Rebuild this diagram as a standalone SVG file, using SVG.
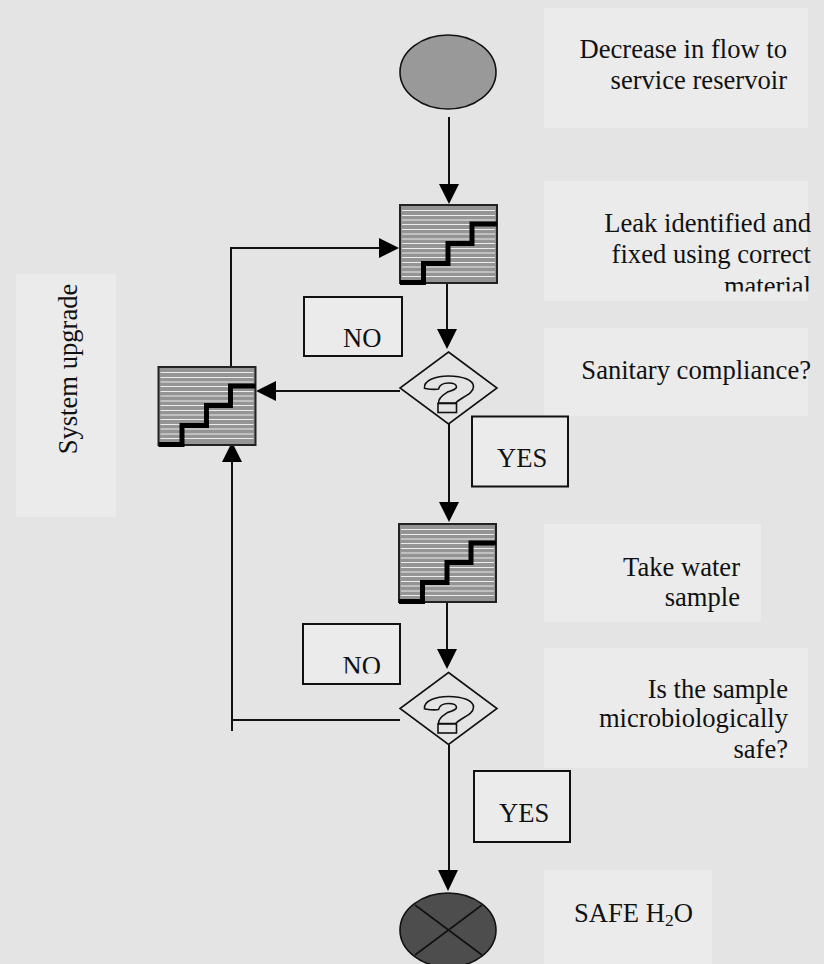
<svg xmlns="http://www.w3.org/2000/svg" width="824" height="964" viewBox="0 0 824 964">
<style>
text{font-family:"Liberation Serif","Times New Roman",serif;font-size:26.6px;fill:#111}
.e{text-anchor:end}
.panel{fill:#ebebeb}
.lab{fill:#ebebeb;stroke:#111;stroke-width:2}
.ln{fill:none;stroke:#111;stroke-width:2}
.hd{fill:#000}
.st{fill:#949494;stroke:#222;stroke-width:2}
.ws{stroke:#ececec;stroke-width:1}
.stp{fill:none;stroke:#000;stroke-width:5}
.dm{fill:#e4e4e4;stroke:#111;stroke-width:1.6}
</style>
<defs>
<g id="proc">
<rect class="st" x="0" y="0" width="97" height="78"/>
<path class="ws" d="M2 5.500H95M2 10.500H95M2 15H95M2 19.500H95M2 24.500H95M2 29H95M2 34H95M2 38.500H95M2 43.500H95M2 48H95M2 52.500H95M2 57.500H95M2 62H95M2 67H95M2 71.500H95"/>
<path class="stp" d="M0 77.500H23.500V58.500H48V38.500H72V19H97"/>
</g>
<g id="dec">
<path class="dm" d="M0 -36L48.500 0L0 36L-48.500 0Z"/>
<path class="dm" d="M-24 0.300C-25 -8 -12 -12 0 -12C14 -12 25 -8 25 -1.300C25 6 13 9 7 15H-10C-10 8 -3 6 -1 4C5 2 8 1 8 -1C8 -4 4 -5 0 -5C-5 -5 -9 -3 -10 1C-15 2 -20 1 -24 0.300Z"/>
<rect class="dm" x="-10.500" y="15.500" width="18.500" height="9"/>
</g>
<clipPath id="c1"><rect x="544" y="181" width="280" height="110.500"/></clipPath>
<clipPath id="c2"><rect x="304" y="624" width="96" height="49.500"/></clipPath>
</defs>
<rect width="824" height="964" fill="#e4e4e4"/>
<g id="connectors">
<path class="ln" d="M449 117V186"/><path class="hd" d="M439 184H459L449 204Z"/>
<path class="ln" d="M447 277V331"/><path class="hd" d="M437 329H457L447 349Z"/>
<path class="ln" d="M400 391H274"/><path class="hd" d="M276 381V401L256 391Z"/>
<path class="ln" d="M449 424V504"/><path class="hd" d="M439 502H459L449 522Z"/>
<path class="ln" d="M447 598V651"/><path class="hd" d="M437 649H457L447 669Z"/>
<path class="ln" d="M400 720H232M232 731V460"/><path class="hd" d="M222 462H242L232 442Z"/>
<path class="ln" d="M231 367V248H381"/><path class="hd" d="M379 238V258L399 248Z"/>
<path class="ln" d="M449 745V872"/><path class="hd" d="M438 870H458L448 891Z"/>
</g>
<g id="panel-1"><rect class="panel" x="544" y="8" width="264" height="120"/><text class="e" x="787" y="58">Decrease in flow to</text><text class="e" x="787" y="89">service reservoir</text></g>
<g id="panel-2"><rect class="panel" x="544" y="181" width="264" height="120"/><g clip-path="url(#c1)"><text class="e" x="811" y="232">Leak identified and</text><text class="e" x="811" y="263">fixed using correct</text><text class="e" x="811" y="294.500">material</text></g></g>
<g id="panel-3"><rect class="panel" x="544" y="328" width="264" height="88"/><text class="e" x="811" y="379">Sanitary compliance?</text></g>
<g id="panel-4"><rect class="panel" x="544" y="524" width="217" height="98"/><text class="e" x="740" y="576">Take water</text><text class="e" x="740" y="606">sample</text></g>
<g id="panel-5"><rect class="panel" x="544" y="648" width="264" height="120"/><text class="e" x="788" y="698">Is the sample</text><text class="e" x="788" y="727">microbiologically</text><text class="e" x="788" y="758">safe?</text></g>
<g id="panel-6"><rect class="panel" x="544" y="870" width="168" height="94"/><text x="574" y="921.500">SAFE H<tspan font-size="17.500" dy="4">2</tspan><tspan dy="-4">O</tspan></text></g>
<g id="panel-7"><rect class="panel" x="16" y="274" width="100" height="243"/><text transform="translate(76.500 369) rotate(-90)" text-anchor="middle">System upgrade</text></g>
<g id="start"><ellipse cx="448" cy="72" rx="48" ry="37" fill="#999" stroke="#111" stroke-width="1.600"/></g>
<g id="step-1"><use href="#proc" x="400" y="205"/></g>
<g id="step-2"><use href="#proc" x="158.500" y="367"/></g>
<g id="step-3"><use href="#proc" x="399" y="524"/></g>
<g id="decision-1"><use href="#dec" x="448.500" y="388"/></g>
<g id="decision-2"><use href="#dec" x="448.500" y="708.500"/></g>
<g id="end"><ellipse cx="448" cy="930" rx="48" ry="37" fill="#4d4d4d" stroke="#111" stroke-width="1.600"/><path d="M415 905L482 955M482 905L415 955" stroke="#111" stroke-width="1.600"/></g>
<g id="no-1"><rect class="lab" x="304" y="297" width="98" height="59"/><text x="343" y="346.500">NO</text></g>
<g id="yes-1"><rect class="lab" x="472" y="416.500" width="96" height="70"/><text x="497" y="466.500">YES</text></g>
<g id="no-2"><rect class="lab" x="303" y="624" width="97" height="60"/><text x="342.500" y="674.500" clip-path="url(#c2)">NO</text></g>
<g id="yes-2"><rect class="lab" x="474" y="771" width="96" height="71"/><text x="499" y="822">YES</text></g>
</svg>
